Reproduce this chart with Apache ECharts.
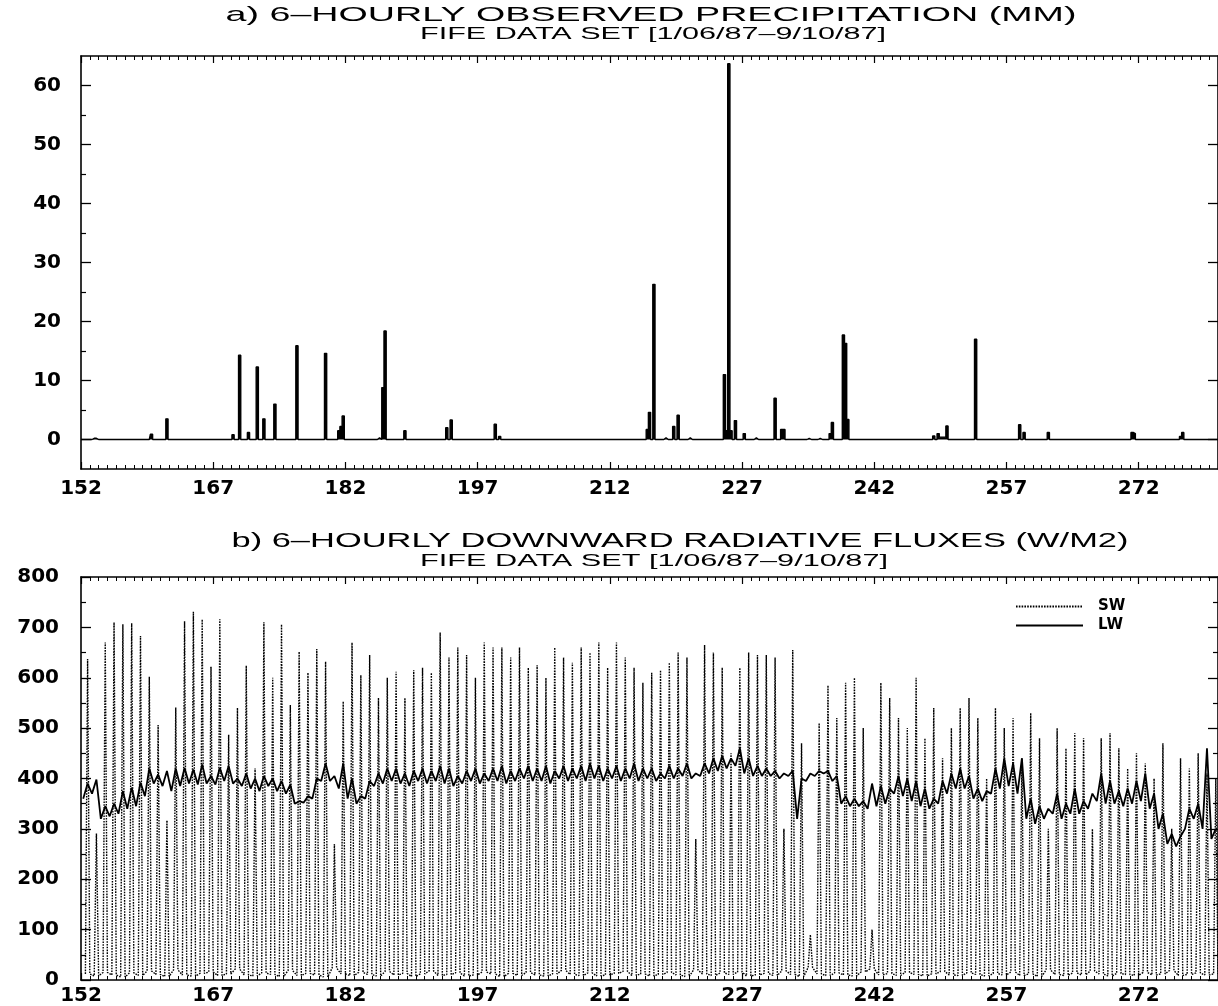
<!DOCTYPE html>
<html><head><meta charset="utf-8">
<script src="https://cdn.jsdelivr.net/npm/echarts@6/dist/echarts.min.js"></script>
<style>html,body{margin:0;padding:0;background:#fff}#c{width:1218px;height:1006px}</style>
</head><body><div id="c"></div>
<script>
// ---------- tick labels ----------
const xTickLabels = [152,167,182,197,212,227,242,257,272];
const precipTicks = [0,10,20,30,40,50,60];
const precipMinorTicks = [5,15,25,35,45,55];
const firstDay = 152, lastDay = 281;

// ---------- a) 6-hourly precipitation events (day of year, mm) ----------
const precipTime = [153.5,153.75,160.0,161.75,169.25,170.0,171.0,172.0,172.75,174.0,176.5,179.75,181.25,181.5,181.75,185.75,186.25,186.5,188.75,193.5,194.0,199.0,199.5,216.25,216.5,217.0,218.25,219.25,219.75,221.0,225.0,225.25,225.5,225.75,226.25,227.25,228.5,230.75,231.5,231.75,234.5,235.75,237.0,237.25,238.5,238.75,239.0,248.75,249.25,249.5,249.75,250.0,250.25,253.5,258.5,259.0,261.75,271.25,271.5,276.75,277.0];
const precipMM   = [0.2,0.2,0.9,3.5,0.8,14.3,1.2,12.3,3.5,6.0,15.9,14.6,1.5,2.2,4.0,0.3,8.8,18.4,1.5,2.0,3.3,2.6,0.5,1.7,4.6,26.3,0.3,2.2,4.1,0.3,11.0,1.5,63.7,1.5,3.2,1.0,0.3,7.0,1.7,1.7,0.2,0.2,1.0,2.9,17.7,16.3,3.4,0.6,1.0,0.4,0.4,0.4,2.3,17.0,2.5,1.2,1.2,1.2,1.0,0.5,1.2];

// ---------- b) radiative fluxes, one entry per day from day 152 ----------
const swPeak = [
637,291,670,710,706,708,683,602,506,317,
541,712,731,716,622,716,487,540,624,420,
710,600,706,546,652,610,657,632,270,553,
670,605,645,560,600,612,560,615,620,610,
690,640,660,645,600,670,660,660,640,660,
620,625,600,660,640,630,660,650,670,620,
670,640,620,590,610,615,630,650,640,280,
665,650,620,450,620,650,645,645,640,300,
655,470,90,510,585,520,590,600,500,100,
590,560,520,500,600,480,540,440,500,540,
560,520,400,540,500,520,440,530,480,300,
500,460,490,480,300,480,490,460,420,450,
430,400,470,300,440,420,450,410,400];
const swLow = [
12,8,15,10,6,14,9,18,11,7,
20,10,8,13,16,9,12,22,10,8,
14,11,7,19,9,13,10,6,24,12,
9,15,11,8,17,10,13,7,12,18,
9,11,14,8,10,16,12,7,13,9,
15,10,8,12,19,11,9,14,8,10,
13,17,9,12,8,11,15,10,7,20,
12,9,14,11,16,8,10,13,9,18,
11,7,25,12,9,14,10,8,16,22,
10,13,9,15,11,8,12,17,10,9,
14,11,8,13,10,16,9,12,7,20,
11,9,14,10,18,12,8,13,11,9,
15,10,12,19,9,11,14,10,12];
const lwLow = [
360,370,320,325,330,340,345,365,390,385,
375,385,390,388,390,388,395,390,385,380,
375,385,375,370,350,352,360,395,395,380,
360,350,360,385,390,395,390,385,395,390,
395,390,385,390,395,390,395,395,390,395,
400,395,395,390,400,395,400,395,400,395,
400,395,400,395,400,395,400,400,405,400,
405,410,415,420,425,410,405,405,405,400,
405,320,395,405,410,395,350,345,345,340,
345,350,370,365,355,345,340,350,370,380,
380,360,355,370,380,385,370,320,310,320,
330,320,330,330,340,355,350,350,345,350,
355,340,300,270,265,300,320,300,280];
const lwHigh = [
390,398,345,350,375,382,392,420,408,415,
420,421,418,428,405,421,425,400,410,400,
405,400,395,388,355,365,400,430,405,430,
400,365,395,410,420,420,410,415,420,415,
425,420,405,415,420,410,420,425,415,420,
425,420,425,415,425,420,425,430,425,420,
425,420,430,420,420,410,425,420,430,410,
430,440,445,440,460,440,425,420,415,410,
415,400,410,415,415,405,365,360,355,390,
385,380,405,400,395,380,360,395,410,420,
405,380,375,420,440,430,440,360,345,340,
370,350,380,355,370,410,395,375,380,395,
410,370,330,290,285,340,350,460,300];

// ---------- build series data ----------
const evt = {};
precipTime.forEach((t, i) => { evt[Math.round(t * 4)] = precipMM[i]; });
const precipData = [];
for (let k = firstDay * 4; k <= lastDay * 4; k++) precipData.push([k / 4, evt[k] || 0]);

const swData = [], lwData = [];
swPeak.forEach((v, i) => {
  const d = firstDay + i;
  swData.push([d + 0.5, swLow[i]], [d + 0.75, v], [d + 1.0, swLow[i]]);
  lwData.push([d + 0.25, lwLow[i]], [d + 0.75, lwHigh[i]]);
});
const dayTicks = [];
for (let d = firstDay; d <= lastDay; d++) dayTicks.push(d);

// ---------- layout ----------
const BLACK = '#000';
const pxPerDay = 8.825;
const gridW = (lastDay - firstDay) * pxPerDay;
const labelFont = { fontFamily: 'DejaVu Sans', fontWeight: 'bold', fontSize: 20, color: BLACK };

function xAxes(gi, labelMargin) {
  const base = { gridIndex: gi, type: 'value', min: firstDay, max: lastDay, splitLine: { show: false } };
  return [
    Object.assign({}, base, { position: 'bottom',
      axisLine: { onZero: false, lineStyle: { color: BLACK, width: 1.6 } },
      axisTick: { inside: true, length: 7, customValues: xTickLabels, lineStyle: { color: BLACK, width: 1.2 } },
      axisLabel: Object.assign({ customValues: xTickLabels, margin: labelMargin }, labelFont) }),
    Object.assign({}, base, { position: 'bottom',
      axisLine: { show: false, onZero: false },
      axisTick: { inside: true, length: 4, customValues: dayTicks, lineStyle: { color: BLACK, width: 1 } },
      axisLabel: { show: false } }),
    Object.assign({}, base, { position: 'top',
      axisLine: { onZero: false, lineStyle: { color: BLACK, width: 1.6 } },
      axisTick: { inside: true, length: 7, customValues: xTickLabels, lineStyle: { color: BLACK, width: 1.2 } },
      axisLabel: { show: false } }),
    Object.assign({}, base, { position: 'top',
      axisLine: { show: false, onZero: false },
      axisTick: { inside: true, length: 4, customValues: dayTicks, lineStyle: { color: BLACK, width: 1 } },
      axisLabel: { show: false } })
  ];
}

const chart = echarts.init(document.getElementById('c'), null, { renderer: 'canvas' });

function measure(str, font) {
  const c = document.createElement('canvas').getContext('2d');
  c.font = font; return c.measureText(str).width;
}
function stretchedText(str, cx, cy, size, targetW) {
  const font = 'normal ' + size + 'px "Liberation Sans"';
  const w = measure(str, font);
  return { type: 'text', x: cx, y: cy, scaleX: targetW / w, scaleY: 1, silent: true,
    style: { text: str, font: font, fill: BLACK, textAlign: 'center', textVerticalAlign: 'middle', align: 'center', verticalAlign: 'middle' } };
}

const option = {
  animation: false,
  backgroundColor: '#fff',
  graphic: [
    stretchedText('a) 6\u2013HOURLY OBSERVED PRECIPITATION (MM)', 651, 15, 21, 851),
    stretchedText('FIFE DATA SET [1/06/87\u20139/10/87]', 653, 35, 16, 466),
    stretchedText('b) 6\u2013HOURLY DOWNWARD RADIATIVE FLUXES (W/M2)', 680, 541, 21, 897),
    stretchedText('FIFE DATA SET [1/06/87\u20139/10/87]', 654, 562, 16, 468)
  ],
  grid: [
    { left: 81, top: 56, width: gridW, height: 413 },
    { left: 81, top: 577, width: gridW, height: 408 }
  ],
  xAxis: [].concat(xAxes(0, 10), xAxes(1, 6)),
  yAxis: [
    { gridIndex: 0, type: 'value', min: -5, max: 65, position: 'left', splitLine: { show: false },
      axisLine: { onZero: false, lineStyle: { color: BLACK, width: 1.6 } },
      axisTick: { inside: true, length: 10, customValues: precipTicks, lineStyle: { color: BLACK, width: 1.3 } },
      axisLabel: Object.assign({ customValues: precipTicks, margin: 20 }, labelFont) },
    { gridIndex: 0, type: 'value', min: -5, max: 65, position: 'left', splitLine: { show: false },
      axisLine: { show: false, onZero: false },
      axisTick: { inside: true, length: 5, customValues: precipMinorTicks, lineStyle: { color: BLACK, width: 1.2 } },
      axisLabel: { show: false } },
    { gridIndex: 0, type: 'value', min: -5, max: 65, position: 'right', splitLine: { show: false },
      axisLine: { onZero: false, lineStyle: { color: BLACK, width: 1.6 } },
      axisTick: { inside: true, length: 10, customValues: precipTicks, lineStyle: { color: BLACK, width: 1.3 } },
      axisLabel: { show: false } },
    { gridIndex: 1, type: 'value', min: 0, max: 800, interval: 100, position: 'left', splitLine: { show: false },
      axisLine: { onZero: false, lineStyle: { color: BLACK, width: 1.6 } },
      axisTick: { inside: true, length: 10, lineStyle: { color: BLACK, width: 1.3 } },
      minorTick: { show: true, splitNumber: 2, length: 5, lineStyle: { color: BLACK, width: 1.2 } },
      axisLabel: Object.assign({ margin: 22 }, labelFont) },
    { gridIndex: 1, type: 'value', min: 0, max: 800, interval: 100, position: 'right', splitLine: { show: false },
      axisLine: { onZero: false, lineStyle: { color: BLACK, width: 1.6 } },
      axisTick: { inside: true, length: 10, lineStyle: { color: BLACK, width: 1.3 } },
      minorTick: { show: true, splitNumber: 2, length: 5, lineStyle: { color: BLACK, width: 1.2 } },
      axisLabel: { show: false } }
  ],
  legend: {
    data: ['SW', 'LW'], orient: 'vertical', left: 1010, top: 594,
    itemWidth: 67, itemHeight: 12, itemGap: 4,
    itemStyle: { opacity: 0 },
    textStyle: { fontFamily: 'DejaVu Sans', fontWeight: 'bold', fontSize: 15, color: BLACK, padding: [0, 0, 0, 10] }
  },
  series: [
    { name: 'precip', type: 'line', xAxisIndex: 0, yAxisIndex: 0, step: 'middle', showSymbol: false, symbol: 'none',
      lineStyle: { color: BLACK, width: 1.4 }, areaStyle: { color: BLACK, opacity: 1, origin: 0 }, data: precipData },
    { name: 'SW', type: 'line', xAxisIndex: 4, yAxisIndex: 3, showSymbol: false, symbol: 'none',
      lineStyle: { color: BLACK, width: 1.4, type: [1.6, 1.2] }, itemStyle: { color: BLACK }, data: swData },
    { name: 'LW', type: 'line', xAxisIndex: 4, yAxisIndex: 3, showSymbol: false, symbol: 'none',
      lineStyle: { color: BLACK, width: 1.8 }, itemStyle: { color: BLACK }, data: lwData }
  ]
};
chart.setOption(option);
</script></body></html>
